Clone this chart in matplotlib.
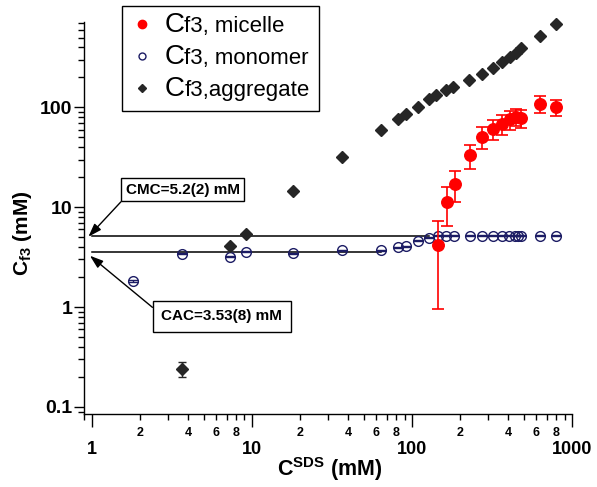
import numpy as np
import matplotlib
matplotlib.use("Agg")
import matplotlib.pyplot as plt
import matplotlib.transforms as mtransforms
from matplotlib.lines import Line2D
from matplotlib.ticker import LogLocator, FuncFormatter, NullFormatter

plt.rcParams.update({
    "font.family": ["Liberation Sans", "DejaVu Sans"],
    "font.weight": "bold",
    "mathtext.fontset": "custom",
    "mathtext.rm": "Liberation Sans",
    "mathtext.bf": "Liberation Sans:bold",
    "mathtext.it": "Liberation Sans:italic",
})

# Data (mM)
micelle_x = [146, 165, 185, 231, 276, 320, 364, 410, 450, 482, 635, 790]
micelle_y = [4.15, 11.3, 17.1, 33.2, 50.6, 61.4, 68.9, 76, 80.5, 78.3, 108, 100]
micelle_err = [3.2, 4.8, 5.8, 9.0, 12.5, 14, 15.5, 16, 16, 16, 21, 18]

mono_x = [1.81, 3.66, 7.3, 9.15, 18.1, 36.8, 64, 82.5, 92, 110, 128,
          146, 163, 182, 231, 276, 320, 364, 405, 438, 462, 482, 635, 790]
mono_y = [1.82, 3.41, 3.2, 3.58, 3.48, 3.69, 3.72, 3.98, 4.07, 4.64, 4.94,
          5.21, 5.21, 5.21, 5.21, 5.21, 5.21, 5.21, 5.21, 5.21, 5.21, 5.21, 5.21, 5.21]
mono_err = [0.04] * len(mono_x)

agg_x = [3.66, 7.3, 9.15, 18.1, 36.8, 64, 82.5, 92, 110, 128, 142, 163,
         180, 229, 276, 320, 364, 410, 450, 482, 635, 790]
agg_y = [0.24, 4.1, 5.43, 14.6, 32.2, 59.6, 76.7, 85.5, 102, 121, 133, 150,
         159, 188, 215, 246, 283, 318, 353, 391, 519, 679]
agg_err = [0.04] + [0] * (len(agg_x) - 1)

CMC = 5.2
CAC = 3.53
cmc_line_x = [1.0, 128]
cac_line_x = [1.0, 64]

labels = ["f3, micelle", "f3, monomer", "f3,aggregate"]

RED = "#ff0000"
NAVY = "#1c1c64"
DARK = "#262626"

fig = plt.figure(figsize=(5.97, 4.87), dpi=100)
ax = fig.add_axes([0.1412, 0.1493, 0.8169, 0.8055])
ax.set_xscale("log")
ax.set_yscale("log")

ax.plot(cmc_line_x, [CMC, CMC], color="black", lw=1.1, zorder=1)
ax.plot(cac_line_x, [CAC, CAC], color="black", lw=1.1, zorder=1)

ax.errorbar(mono_x, mono_y, yerr=mono_err, fmt="o", ms=7, mfc="none", mec=NAVY,
            mew=1, ecolor=NAVY, elinewidth=1, capsize=3.4, capthick=1.4, zorder=2)
ax.errorbar(agg_x, agg_y, yerr=agg_err, fmt="D", ms=5.8, color=DARK, ecolor=DARK,
            elinewidth=1, capsize=3, capthick=1, clip_on=False, zorder=3)
ax.errorbar(micelle_x, micelle_y, yerr=micelle_err, fmt="o", ms=8.3, color=RED, ecolor=RED,
            elinewidth=1.2, capsize=4.3, capthick=1.2, clip_on=False, zorder=4)

ax.set_xlim(0.9, 1000)
ax.set_ylim(0.0845, 716)


def minor_label(v, pos):
    mant = int(round(v / 10 ** np.floor(np.log10(v) + 1e-9)))
    return str(mant) if mant in (2, 4, 6, 8) else ""


ax.xaxis.set_major_locator(LogLocator(base=10, numticks=10))
ax.xaxis.set_minor_locator(LogLocator(base=10, subs=range(2, 10), numticks=20))
ax.xaxis.set_major_formatter(FuncFormatter(lambda v, p: f"{v:g}"))
ax.xaxis.set_minor_formatter(FuncFormatter(minor_label))
ax.yaxis.set_major_locator(LogLocator(base=10, numticks=10))
ax.yaxis.set_minor_locator(LogLocator(base=10, subs=range(2, 10), numticks=20))
ax.yaxis.set_major_formatter(FuncFormatter(lambda v, p: f"{v:g}"))
ax.yaxis.set_minor_formatter(NullFormatter())

ax.tick_params(axis="x", which="major", length=9, width=1, pad=10.5, labelsize=13)
ax.tick_params(axis="x", which="minor", length=4.5, width=1, pad=4.5, labelsize=9)
ax.tick_params(axis="y", which="major", length=7.2, width=1, pad=1.5, labelsize=14)
ax.tick_params(axis="y", which="minor", length=4.3, width=1)

for side in ("top", "right"):
    ax.spines[side].set_visible(False)
for side in ("left", "bottom"):
    ax.spines[side].set_linewidth(1)

ax.set_xlabel(r"$\mathbf{C^{SDS}\ (mM)}$", fontsize=15.5)
ax.xaxis.set_label_coords(0.504, -0.104)
ax.set_ylabel(r"$\mathbf{C_{f3}\ (mM)}$", fontsize=15)
ax.yaxis.set_label_coords(-0.103, 0.462)

arrow = dict(arrowstyle="-|>,head_length=0.5,head_width=0.17", mutation_scale=16,
             color="black", lw=1, shrinkA=0, shrinkB=0)
ax.annotate("CMC=5.2(2) mM", xy=(0.955, 5.07), xytext=(3.70, 14.96),
            ha="center", va="center", fontsize=11, fontweight="bold",
            bbox=dict(boxstyle="square,pad=0.3", fc="white", ec="black", lw=1),
            arrowprops=dict(arrow, relpos=(0, 0)))
ax.annotate("CAC=3.53(8) mM", xy=(0.976, 3.27), xytext=(6.50, 0.813),
            ha="center", va="center", fontsize=11, fontweight="bold",
            bbox=dict(boxstyle="square,pad=0.55", fc="white", ec="black", lw=1),
            arrowprops=dict(arrow, relpos=(0, 0.6)))

handles = [
    Line2D([], [], ls="none", marker="o", ms=6, color=RED),
    Line2D([], [], ls="none", marker="o", ms=5, mfc="none", mec=NAVY, mew=1),
    Line2D([], [], ls="none", marker="D", ms=4.5, color=DARK),
]
leg = ax.legend(handles, labels, loc="upper left", bbox_to_anchor=(0.0773, 1.0408),
                borderaxespad=0, prop={"size": 16, "weight": "normal"},
                fancybox=False, edgecolor="black", framealpha=1, borderpad=0.45,
                handlelength=0.9, handletextpad=1.45, labelspacing=0.5)
leg.get_frame().set_linewidth(1)

# big "C" in front of each legend label
fig.canvas.draw()
for t in leg.get_texts():
    x0, y0 = t.get_transform().transform(t.get_position())
    fig.text(x0, y0, "C", transform=mtransforms.IdentityTransform(), ha="right",
             va="baseline", fontsize=20, fontweight="normal", zorder=10)

fig.savefig("out.png", dpi=100)
